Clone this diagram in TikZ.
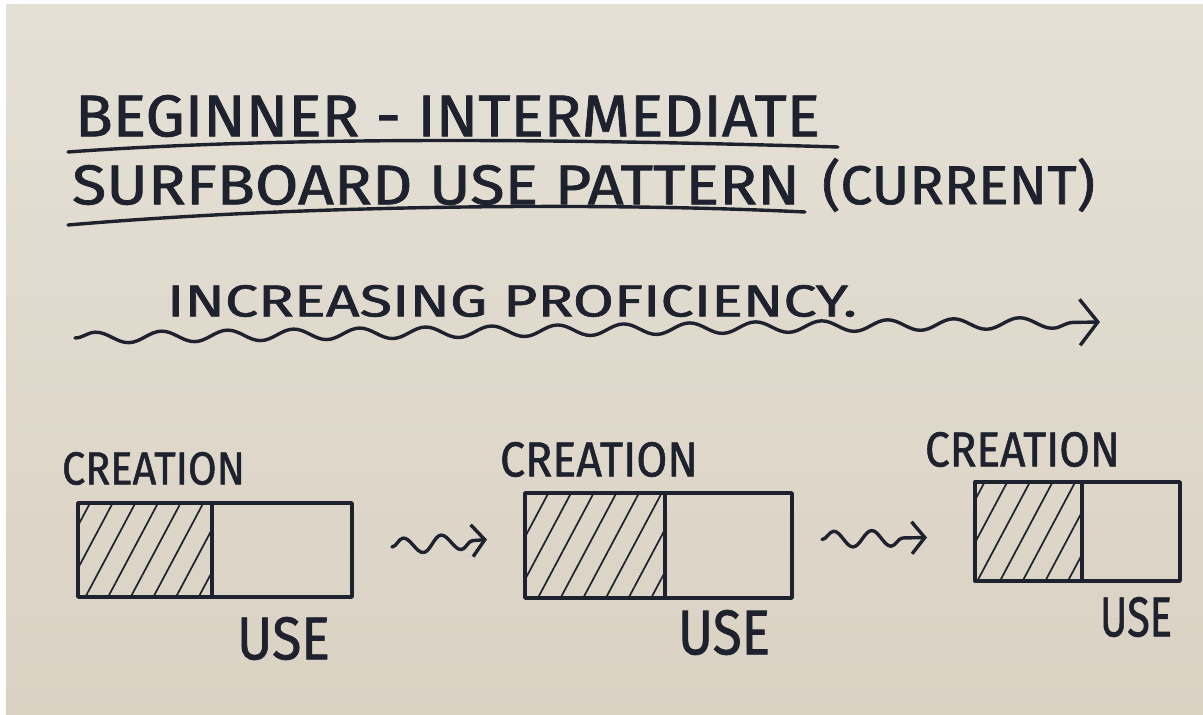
\documentclass[tikz,border=0pt]{standalone}
\usepackage{fontspec}
\setmainfont{Fira Sans}
\newfontfamily\handfont{Fira Sans}[FakeBold=1.2]
\usetikzlibrary{decorations.pathmorphing,patterns.meta,calc,arrows.meta}
\definecolor{paperT}{RGB}{229,224,214}
\definecolor{paperB}{RGB}{218,210,195}
\definecolor{ink}{RGB}{30,34,46}
\newcommand{\skt}[3]{\resizebox*{#1pt}{#2pt}{\handfont\fontsize{40}{40}\selectfont #3}}
\begin{document}
\begin{tikzpicture}[x=1pt,y=-1pt,
  pen/.style={draw=ink,line width=3.4pt,line cap=round,line join=round},
  lbl/.style={inner sep=0pt,outer sep=0pt,text=ink,anchor=north west},
  part/.style={pen,inner sep=0pt,outer sep=0pt},
  hatched/.style={part,pattern={Lines[angle=62,distance=20pt,line width=1.7pt]},pattern color=ink},
  waveline/.style={pen,decorate,decoration={snake,amplitude=5.5pt,segment length=66pt,post length=16pt}},
  squig/.style={pen,decorate,decoration={snake,amplitude=8pt,segment length=38pt,post length=10pt}},
  barb/.style={-{Straight Barb[length=18pt,width=46pt,line width=3.4pt]}},
  smallbarb/.style={-{Straight Barb[length=13pt,width=32pt,line width=3.4pt]}}]
\useasboundingbox (0,0) rectangle (1203,715);
\fill[white] (0,0) rectangle (1203,715);
\shade[top color=paperT,bottom color=paperB] (6,4) rectangle (1203,715);

% titles
\node[lbl] (t1) at (75,95) {\skt{745}{42}{BEGINNER - INTERMEDIATE}};
\node[lbl] (t2) at (72,165) {\skt{728}{40}{SURFBOARD USE PATTERN}};
\node[lbl] (t3) at (822,158) {\skt{273}{54}{(CURRENT)}};
\draw[pen] (68,152) .. controls (300,135) and (600,140) .. (838,147);
\draw[pen] (68,225) .. controls (300,205) and (600,202) .. (805,212);

% proficiency arrow
\node[lbl] (t4) at (167,285) {\skt{690}{32}{INCREASING PROFICIENCY.}};
\coordinate (ws) at (75,338);
\coordinate (we) at (1100,322);
\draw[waveline,barb] (ws) -- (we);

% box 1
\node[hatched,minimum width=134pt,minimum height=94pt] (b1c) at (145,550) {};
\node[part,minimum width=140pt,minimum height=94pt] (b1u) at (282,550) {};
\node[lbl] (c1) at (62,452) {\skt{183}{33}{CREATION}};
\node[lbl] (u1) at (237,617) {\skt{93}{43}{USE}};

% box 2
\node[hatched,minimum width=140pt,minimum height=105pt] (b2c) at (595,545.5) {};
\node[part,minimum width=127pt,minimum height=105pt] (b2u) at (728.5,545.5) {};
\node[lbl] (c2) at (500,442) {\skt{198}{35}{CREATION}};
\node[lbl] (u2) at (678,610) {\skt{92}{45}{USE}};

% box 3
\node[hatched,minimum width=107pt,minimum height=99pt] (b3c) at (1028.5,531.5) {};
\node[part,minimum width=98pt,minimum height=99pt] (b3u) at (1131,531.5) {};
\node[lbl] (c3) at (925,432) {\skt{195}{35}{CREATION}};
\node[lbl] (u3) at (1100,597) {\skt{72}{40}{USE}};

% arrows between boxes
\draw[squig,smallbarb] ($(b1u.east)+(40,-3)$) -- ($(b2c.west)+(-38,-6)$);
\draw[squig,smallbarb] ($(b2u.east)+(30,-6)$) -- ($(b3c.west)+(-48,6)$);
\end{tikzpicture}
\end{document}
